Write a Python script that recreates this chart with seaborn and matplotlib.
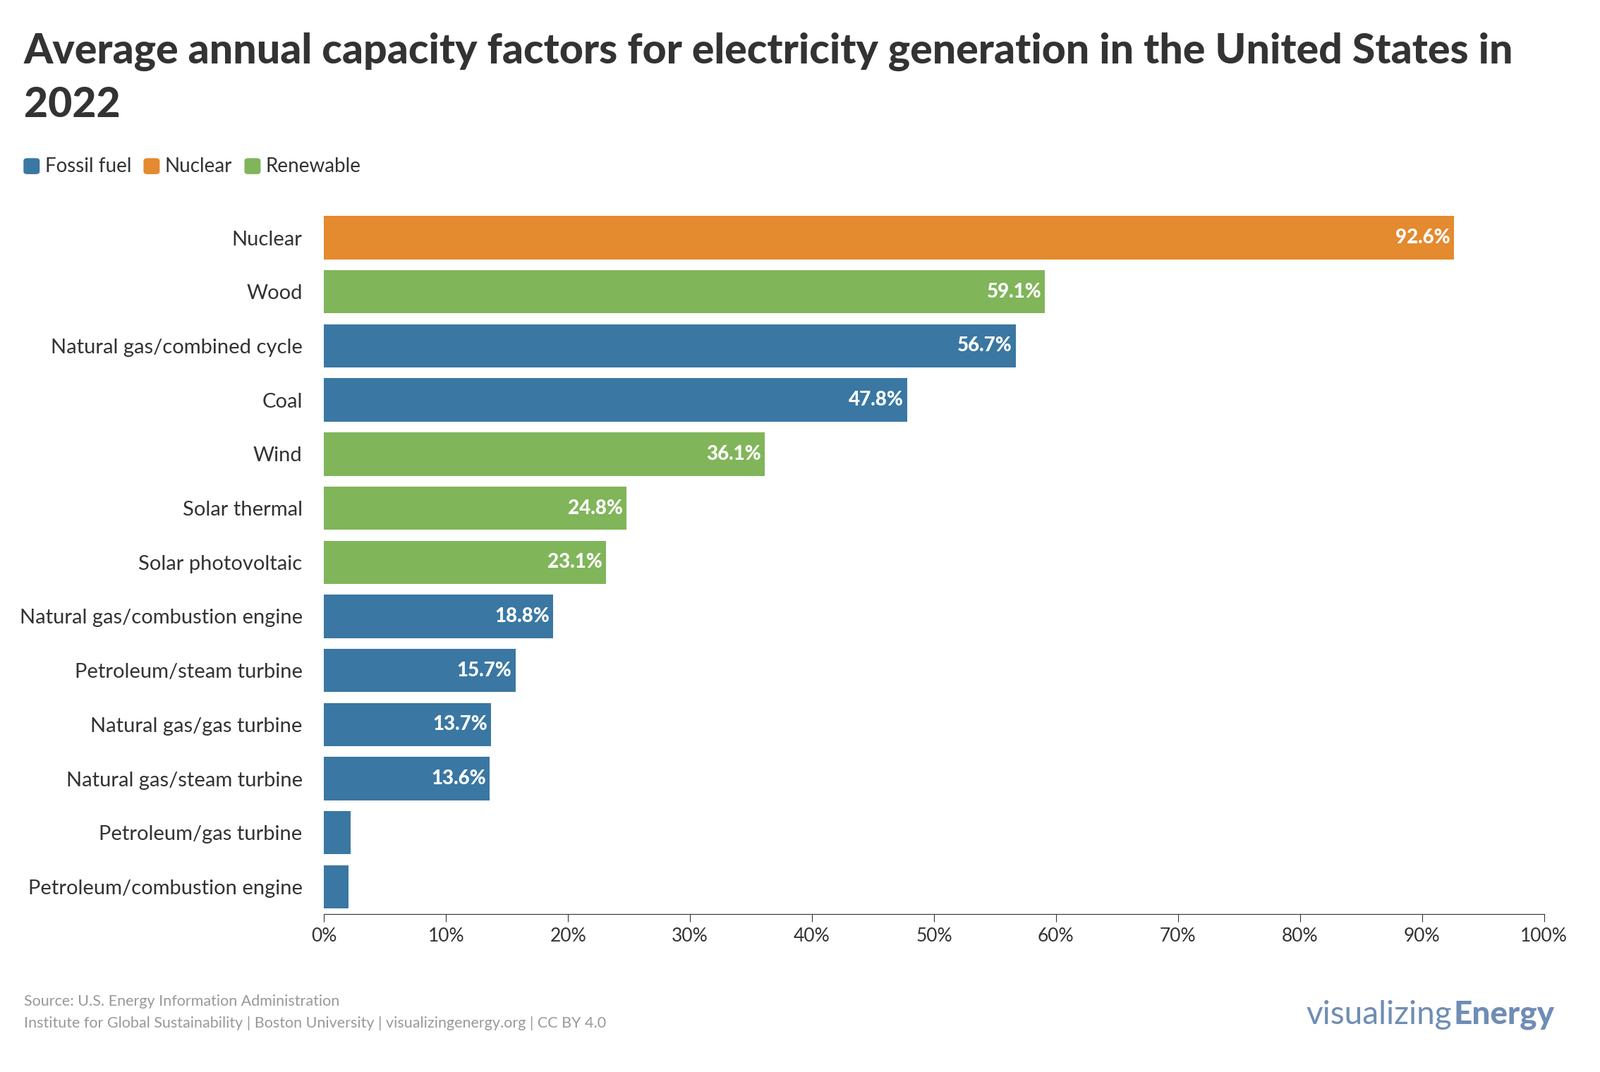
import matplotlib
matplotlib.use("Agg")
import matplotlib.pyplot as plt
import seaborn as sns
import pandas as pd
from matplotlib.patches import FancyBboxPatch

categories = ["Nuclear", "Wood", "Natural gas/combined cycle", "Coal", "Wind", "Solar thermal",
              "Solar photovoltaic", "Natural gas/combustion engine", "Petroleum/steam turbine",
              "Natural gas/gas turbine", "Natural gas/steam turbine", "Petroleum/gas turbine",
              "Petroleum/combustion engine"]
values = [92.6, 59.1, 56.7, 47.8, 36.1, 24.8, 23.1, 18.8, 15.7, 13.7, 13.6, 2.2, 2.0]
groups = ["Nuclear", "Renewable", "Fossil fuel", "Fossil fuel", "Renewable", "Renewable",
          "Renewable", "Fossil fuel", "Fossil fuel", "Fossil fuel", "Fossil fuel",
          "Fossil fuel", "Fossil fuel"]
legend_order = ["Fossil fuel", "Nuclear", "Renewable"]
palette = {"Fossil fuel": "#3a77a3", "Nuclear": "#e48a2f", "Renewable": "#80b55a"}
xticks = list(range(0, 101, 10))

plt.rcParams["font.family"] = "Lato"
df = pd.DataFrame({"cat": categories, "val": values, "grp": groups})

fig = plt.figure(figsize=(22.68, 15.2), dpi=100)
ax = fig.add_axes([0.2025, 0.1475, 0.7625, 0.656])
sns.barplot(data=df, y="cat", x="val", hue="grp", palette=palette, dodge=False,
            width=0.8, legend=False, ax=ax, saturation=1)
ax.set_xlim(0, 100)
ax.set_ylim(len(categories) - 0.5, -0.5)
ax.set_xticks(xticks)
ax.set_xticklabels([f"{t}%" for t in xticks], fontsize=19, color="#333333")
ax.tick_params(axis="y", length=0, labelsize=21, labelcolor="#333333", pad=22)
ax.tick_params(axis="x", length=8, color="#333333", pad=6)
ax.set_xlabel("")
ax.set_ylabel("")
for s in ["top", "right", "left"]:
    ax.spines[s].set_visible(False)
ax.spines["bottom"].set_color("#333333")
for i, v in enumerate(values):
    if v > 5:
        ax.text(v - 0.3, i, f"{v}%", ha="right", va="center", color="white",
                fontsize=20, fontweight="heavy")

fig.text(0.015, 0.952, "Average annual capacity factors for electricity generation in the United States in",
         fontsize=42.5, fontweight="heavy", color="#333333", va="center")
fig.text(0.015, 0.902, "2022", fontsize=42.5, fontweight="heavy", color="#333333", va="center")

# legend
lx = 0.015
ly = 0.845
for g in legend_order:
    fig.patches.append(FancyBboxPatch((lx, ly - 0.007), 0.0095, 0.014, boxstyle="round,pad=0,rounding_size=0.002",
                                      transform=fig.transFigure, color=palette[g]))
    t = fig.text(lx + 0.013, ly, g, fontsize=20, color="#333333", va="center")
    fig.canvas.draw()
    bb = t.get_window_extent().transformed(fig.transFigure.inverted())
    lx = bb.x1 + 0.008

fig.text(0.015, 0.0655, "Source: U.S. Energy Information Administration", fontsize=15.5, color="#999999", va="center")
fig.text(0.015, 0.0455, "Institute for Global Sustainability | Boston University | visualizingenergy.org | CC BY 4.0",
         fontsize=15.5, color="#999999", va="center")
t1 = fig.text(0.8165, 0.053, "visualizing", fontsize=33, color="#6f8db5", va="center")
fig.canvas.draw()
bb = t1.get_window_extent().transformed(fig.transFigure.inverted())
fig.text(bb.x1 + 0.001, 0.053, "Energy", fontsize=33, color="#6f8db5", va="center", fontweight="heavy")

fig.savefig("out.png", dpi=100, facecolor="white")
